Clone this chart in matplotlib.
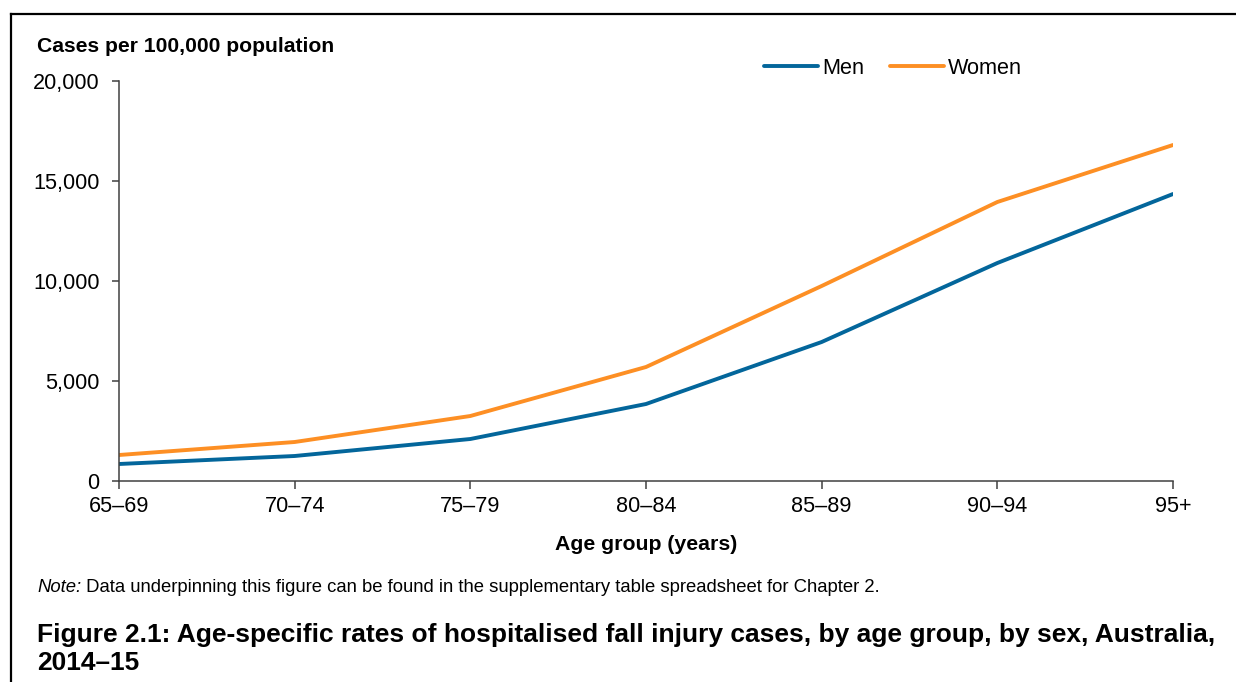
import matplotlib.pyplot as plt
from matplotlib.lines import Line2D
from matplotlib.ticker import FuncFormatter

# Data
age_groups = ["65–69", "70–74", "75–79", "80–84", "85–89", "90–94", "95+"]
men = [850, 1250, 2100, 3850, 6950, 10900, 14350]
women = [1300, 1950, 3250, 5700, 9750, 13950, 16800]

MEN_COLOR = "#03669B"
WOMEN_COLOR = "#FD8F24"
AXIS_COLOR = "#404040"

plt.rcParams["font.family"] = ["Liberation Sans", "DejaVu Sans"]

W, H = 1236, 682
fig = plt.figure(figsize=(W / 100, H / 100), dpi=100)
ax = fig.add_axes([119 / W, 1 - 481 / H, (1173 - 119) / W, (481 - 81) / H])

x = list(range(len(age_groups)))
ax.plot(x, men, color=MEN_COLOR, lw=2.8, label="Men", solid_capstyle="round")
ax.plot(x, women, color=WOMEN_COLOR, lw=2.8, label="Women", solid_capstyle="round")

ax.set_xlim(0, len(age_groups) - 1)
ax.set_ylim(0, 20000)
ax.set_xticks(x)
ax.set_xticklabels(age_groups)
ax.set_yticks([0, 5000, 10000, 15000, 20000])
ax.yaxis.set_major_formatter(FuncFormatter(lambda v, p: f"{int(v):,}"))

for side in ["top", "right"]:
    ax.spines[side].set_visible(False)
for side in ["left", "bottom"]:
    ax.spines[side].set_color(AXIS_COLOR)
    ax.spines[side].set_linewidth(1.1)
ax.tick_params(axis="both", colors=AXIS_COLOR, labelcolor="black",
               labelsize=15.6, width=1.1)
ax.tick_params(axis="y", length=5, pad=9)
ax.tick_params(axis="x", length=6, pad=5)

ax.set_xlabel("Age group (years)", fontsize=15.3, fontweight="bold", labelpad=13)
fig.text(37 / W, 1 - 46 / H, "Cases per 100,000 population", fontsize=15.2,
         fontweight="bold", va="center", ha="left")

ax.legend(loc="center", bbox_to_anchor=(893 / W, 1 - 68 / H),
          bbox_transform=fig.transFigure, ncol=2, frameon=False,
          fontsize=15.6, handlelength=2.5, handletextpad=0.18,
          columnspacing=1.2)

# note below the chart
t1 = fig.text(37 / W, 1 - 587 / H, "Note:", fontsize=13.3, style="italic",
              va="center", ha="left")
ax.annotate(" Data underpinning this figure can be found in the supplementary "
            "table spreadsheet for Chapter 2.", xy=(1, 0), xycoords=t1,
            va="bottom", ha="left", fontsize=13.3)

fig.text(37 / W, 1 - 649 / H,
         "Figure 2.1: Age-specific rates of hospitalised fall injury cases, "
         "by age group, by sex, Australia,\n2014–15",
         fontsize=19, fontweight="bold", va="center", ha="left",
         linespacing=1.2)

# frame lines (left and top only)
fig.add_artist(Line2D([11 / W, 11 / W], [0, 1 - 14 / H], color="black",
                      lw=1.6, transform=fig.transFigure))
fig.add_artist(Line2D([11 / W, 1], [1 - 14 / H, 1 - 14 / H], color="black",
                      lw=1.6, transform=fig.transFigure))

fig.savefig("out.png", dpi=100)
